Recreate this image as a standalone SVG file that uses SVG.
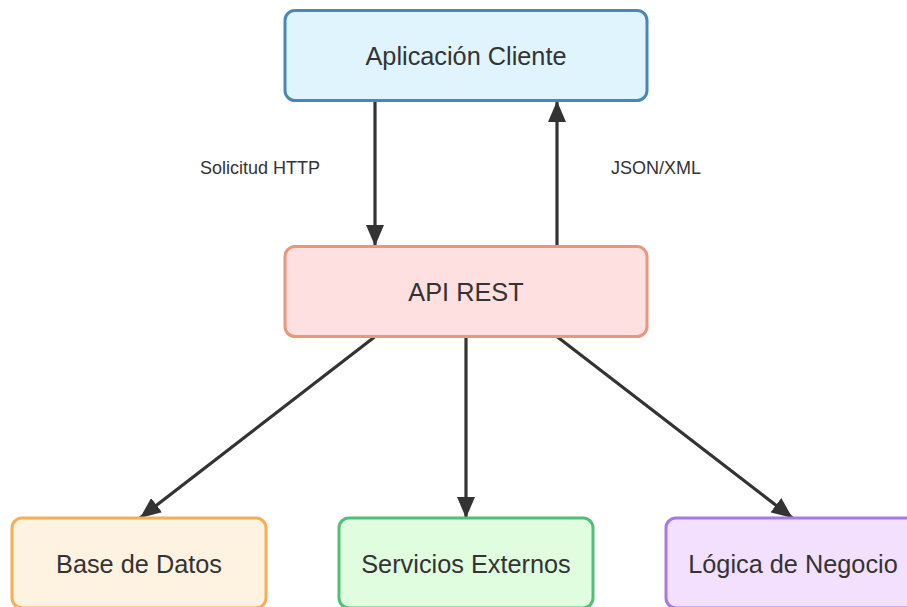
<svg xmlns="http://www.w3.org/2000/svg" width="907" height="607" viewBox="0 0 907 607">
  <style>
    .box { stroke-width: 3; }
    .ntext { font-family: "Liberation Sans", Arial, sans-serif; font-size: 25.3px; fill: #333333; text-anchor: middle; }
    .ltext { font-family: "Liberation Sans", Arial, sans-serif; font-size: 18px; fill: #333333; text-anchor: middle; }
    .edge { stroke: #333333; stroke-width: 3.2; fill: none; }
  </style>
  <defs>
    <marker id="arrow" markerUnits="userSpaceOnUse" markerWidth="21" markerHeight="18" refX="21" refY="9" orient="auto" viewBox="0 0 21 18">
      <path d="M0,0 L21,9 L0,18 z" fill="#333333"/>
    </marker>
  </defs>
  <rect width="907" height="607" fill="#ffffff"/>

  <g id="connectors">
    <line class="edge" x1="375" y1="101" x2="375" y2="246" marker-end="url(#arrow)"/>
    <line class="edge" x1="557" y1="246" x2="557" y2="101" marker-end="url(#arrow)"/>
    <line class="edge" x1="374.5" y1="337" x2="140" y2="518" marker-end="url(#arrow)"/>
    <line class="edge" x1="466" y1="337" x2="466" y2="518" marker-end="url(#arrow)"/>
    <line class="edge" x1="557.5" y1="337" x2="792.5" y2="518" marker-end="url(#arrow)"/>
    <text class="ltext" x="260" y="174">Solicitud HTTP</text>
    <text class="ltext" x="656" y="174">JSON/XML</text>
  </g>

  <g id="cliente">
    <rect class="box" x="285" y="10.5" width="362" height="90" rx="10" fill="#e0f4fd" stroke="#4a87b9"/>
    <text class="ntext" x="466" y="65">Aplicación Cliente</text>
  </g>
  <g id="api">
    <rect class="box" x="285" y="246.5" width="362" height="90" rx="10" fill="#fee0e0" stroke="#e9977c"/>
    <text class="ntext" x="466" y="301">API REST</text>
  </g>
  <g id="bd">
    <rect class="box" x="12" y="518" width="254" height="90" rx="10" fill="#fef2e0" stroke="#f7ae55"/>
    <text class="ntext" x="139" y="573">Base de Datos</text>
  </g>
  <g id="servicios">
    <rect class="box" x="339" y="518" width="254" height="90" rx="10" fill="#e0fde0" stroke="#52bf77"/>
    <text class="ntext" x="466" y="573">Servicios Externos</text>
  </g>
  <g id="logica">
    <rect class="box" x="666" y="518" width="254" height="90" rx="10" fill="#f3e0fe" stroke="#a57ae8"/>
    <text class="ntext" x="793" y="573">Lógica de Negocio</text>
  </g>
</svg>
